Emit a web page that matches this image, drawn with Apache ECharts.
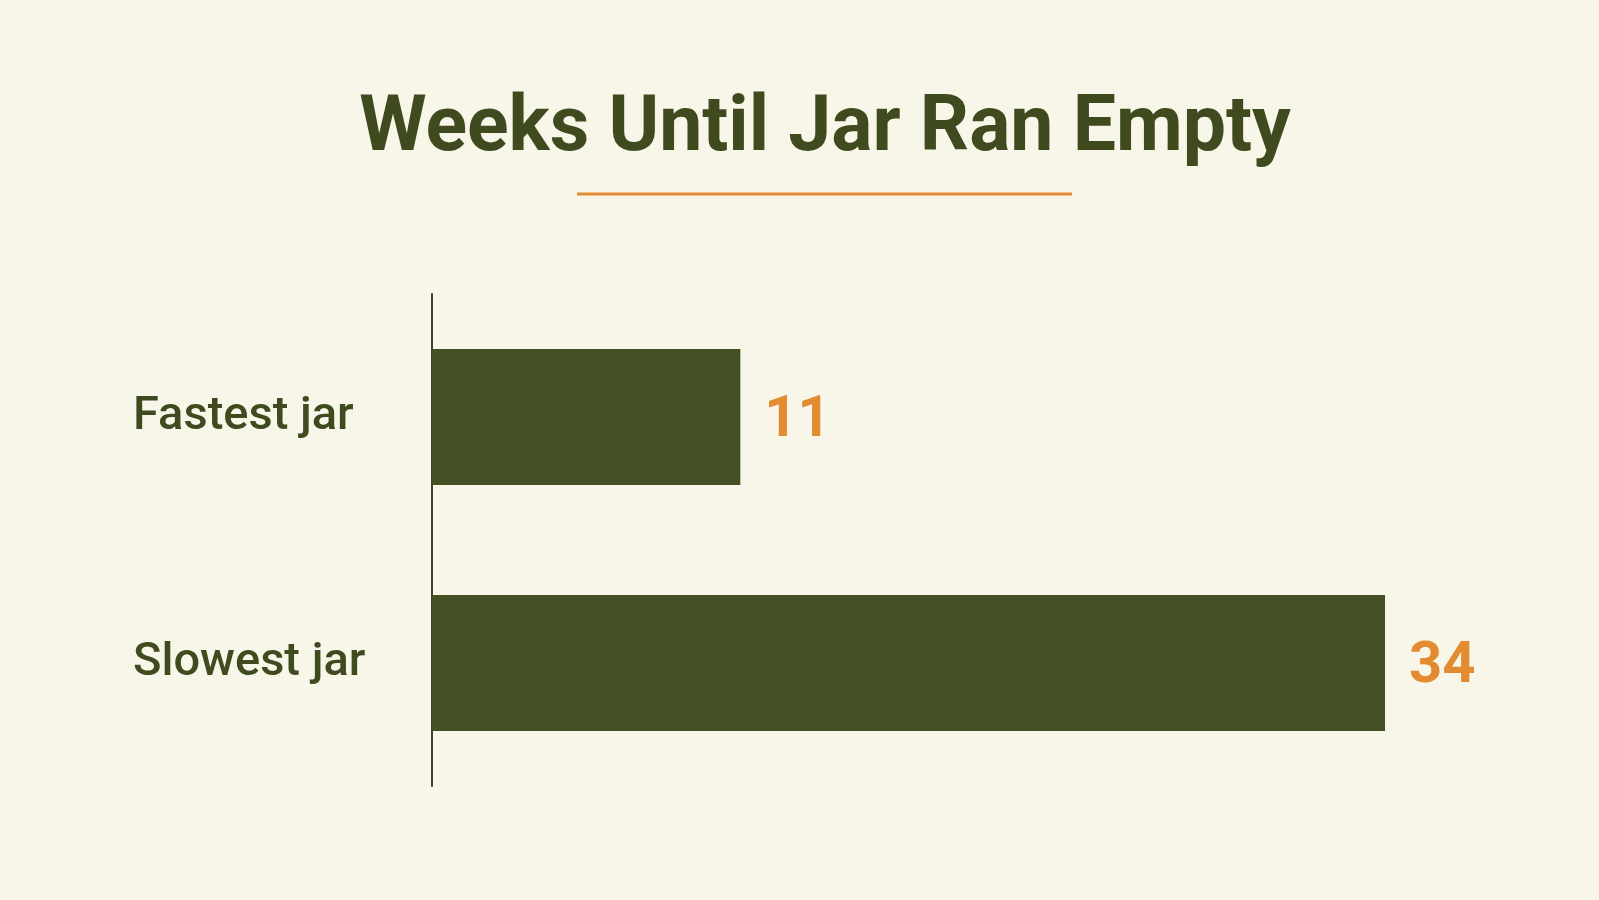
<!DOCTYPE html>
<html>
<head>
<meta charset="utf-8">
<title>Weeks Until Jar Ran Empty</title>
<script src="https://cdn.jsdelivr.net/npm/echarts@6/dist/echarts.min.js"></script>
<style>
  html, body { margin: 0; padding: 0; background: #f8f5e9; }
  #chart { width: 1599px; height: 900px; }
</style>
</head>
<body>
<div id="chart"></div>
<script>
// chart data
var titleText = 'Weeks Until Jar Ran Empty';
var jars = ['Fastest jar', 'Slowest jar'];
var weeks = [11, 34];

var olive = '#454f24';
var oliveText = '#3f4a1f';
var orange = '#e38b31';

var chart = echarts.init(document.getElementById('chart'));

chart.setOption({
    backgroundColor: '#f8f5e9',
    animation: false,
    title: {
        text: titleText,
        left: 820,
        top: 87,
        textAlign: 'center',
        textStyle: {
            fontFamily: 'Roboto',
            fontSize: 77,
            fontWeight: 'bold',
            color: oliveText
        }
    },
    graphic: [{
        // orange rule under the title
        type: 'line',
        shape: { x1: 577, y1: 194, x2: 1072, y2: 194 },
        style: { stroke: orange, lineWidth: 3 }
    }],
    grid: { left: 432, right: 214, top: 294, bottom: 114 },
    xAxis: {
        type: 'value',
        min: 0,
        max: 34,
        show: false
    },
    yAxis: {
        type: 'category',
        data: jars,
        inverse: true,
        axisLine: { show: true, lineStyle: { color: '#3a4219', width: 2 } },
        axisTick: { show: false },
        axisLabel: {
            align: 'left',
            margin: 299,
            fontFamily: 'Roboto',
            fontSize: 47,
            fontWeight: 500,
            color: oliveText
        },
        splitLine: { show: false }
    },
    series: [{
        type: 'bar',
        data: weeks,
        barWidth: 136,
        itemStyle: { color: olive },
        label: {
            show: true,
            position: 'right',
            distance: 24,
            offset: [0, 4],
            fontFamily: 'Roboto',
            fontSize: 58,
            fontWeight: 'bold',
            color: orange
        }
    }]
});
</script>
</body>
</html>
